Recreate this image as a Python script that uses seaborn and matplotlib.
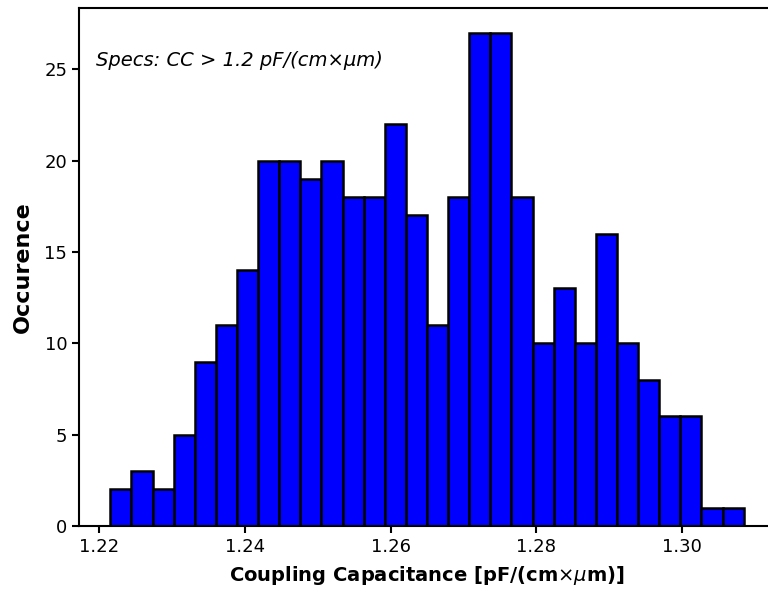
import numpy as np
import pandas as pd
import matplotlib
matplotlib.use("Agg")
import matplotlib.pyplot as plt
import seaborn as sns

# histogram counts, 30 equal bins
counts = [2, 3, 2, 5, 9, 11, 14, 20, 20, 19, 20, 18, 18, 22, 17,
          11, 18, 27, 27, 18, 10, 13, 10, 16, 10, 8, 6, 6, 1, 1]
bin_start = 1.2216
bin_end = 1.3084
x_ticks = [1.22, 1.24, 1.26, 1.28, 1.30]
y_ticks = [0, 5, 10, 15, 20, 25]

edges = np.linspace(bin_start, bin_end, len(counts) + 1)
df = pd.DataFrame({"cc": (edges[:-1] + edges[1:]) / 2, "n": counts})

sns.set_style("ticks")
plt.rcParams['font.family'] = ['DejaVu Sans']
plt.rcParams.update({"text.color": "black", "axes.labelcolor": "black",
                     "xtick.color": "black", "ytick.color": "black"})

fig = plt.figure(figsize=(7.68, 5.89), dpi=100)
ax = fig.add_axes([79 / 768, 63 / 589, 696 / 768, 518 / 589])

sns.histplot(data=df, x="cc", weights="n", bins=len(counts),
             binrange=(bin_start, bin_end), color="blue",
             edgecolor="black", linewidth=1.8, alpha=1, ax=ax)

ax.set_xlim(1.2173, 1.3127)
ax.set_ylim(0, 28.35)
ax.set_xticks(x_ticks)
ax.set_xticklabels([f"{t:.2f}" for t in x_ticks])
ax.set_yticks(y_ticks)
ax.tick_params(labelsize=13, width=1.5, length=5)
for s in ax.spines.values():
    s.set_linewidth(1.5)
    s.set_color("black")

ax.set_xlabel(r"Coupling Capacitance [pF/(cm$\times\mu$m)]", fontsize=14,
              fontweight="bold", labelpad=6)
ax.set_ylabel("Occurence", fontsize=16, fontweight="bold", labelpad=8)
ax.text(0.025, 0.898, "Specs: CC > 1.2 pF/(cm×μm)", transform=ax.transAxes,
        fontsize=14, style="italic", va="center")

fig.savefig("out.png", dpi=100)
